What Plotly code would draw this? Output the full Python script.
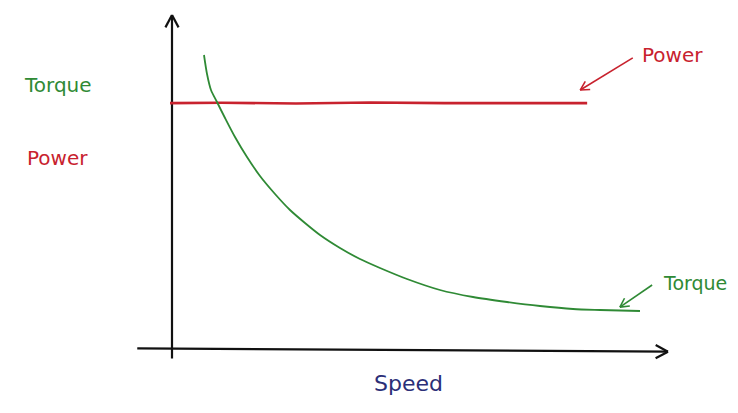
import plotly.graph_objects as go
import numpy as np

# ---- data (speed units on x, torque/power units on y) ----
torque_speed = [0.645, 0.706, 0.786, 0.907, 1.069, 1.270, 1.512, 1.774, 2.077, 2.379,
                2.681, 2.984, 3.387, 3.790, 4.194, 4.738, 5.403, 6.069, 6.754, 7.419,
                8.085, 8.629, 9.435]
torque_vals = [8.806, 8.239, 7.761, 7.403, 6.925, 6.358, 5.761, 5.194, 4.657, 4.179,
               3.791, 3.433, 3.045, 2.716, 2.448, 2.119, 1.791, 1.582, 1.433, 1.313,
               1.224, 1.194, 1.164]
power_speed = [-0.04, 1.0, 2.5, 4.0, 5.5, 7.0, 8.37]
power_vals = [7.37, 7.38, 7.36, 7.39, 7.37, 7.38, 7.37]

x_axis_label = "Speed"
y_labels = ["Torque", "Power"]
callouts = ["Power", "Torque"]

# ---- layout geometry (page body adds an 8px offset) ----
W, H = 730, 405
pxx, pxy = 49.6, 33.5          # pixels per data unit
ox, oy = 164, 342              # figure pixel of data origin
xr = [-ox / pxx, (W - ox) / pxx]
yr = [(oy - H) / pxy, oy / pxy]

GREEN = "#2f8a35"
RED = "#c8222e"
NAVY = "#2b2f78"

fig = go.Figure()

def vhead(x0, y0, x1, y1, size=12, ang=28):
    dx, dy = (x1 - x0) * pxx, (y1 - y0) * pxy
    th = np.arctan2(dy, dx)
    pts_x, pts_y = [], []
    for s in (1, -1):
        a = th + np.pi - s * np.radians(ang)
        pts_x += [x1 + size * np.cos(a) / pxx, x1, None]
        pts_y += [y1 + size * np.sin(a) / pxy, y1, None]
    return pts_x, pts_y

def arrow(x0, y0, x1, y1, color, width, size=12):
    hx, hy = vhead(x0, y0, x1, y1, size)
    fig.add_trace(go.Scatter(x=[x0, x1, None] + hx, y=[y0, y1, None] + hy, mode="lines",
                             line=dict(color=color, width=width), hoverinfo="skip",
                             showlegend=False))

# axes
arrow(0, -0.25, 0, 10.0, "#111111", 2.2, 14)
arrow(-0.7, 0.05, 10.0, -0.05, "#111111", 2.2, 14)

# curves
fig.add_trace(go.Scatter(x=power_speed, y=power_vals, mode="lines", name="Power",
                         line=dict(color=RED, width=2.6),
                         showlegend=False))
fig.add_trace(go.Scatter(x=torque_speed, y=torque_vals, mode="lines", name="Torque",
                         line=dict(color=GREEN, width=1.8, shape="spline", smoothing=0.8),
                         showlegend=False))

# pointer arrows
arrow(9.29, 8.72, 8.23, 7.76, RED, 1.6, 10)
arrow(9.68, 1.94, 9.03, 1.28, GREEN, 1.6, 10)

font = "DejaVu Sans"
anns = [
    dict(x=-2.30, y=7.91, text=y_labels[0], color=GREEN, size=20),
    dict(x=-2.30, y=5.73, text=y_labels[1], color=RED, size=20),
    dict(x=10.1, y=8.81, text=callouts[0], color=RED, size=20),
    dict(x=10.54, y=2.0, text=callouts[1], color=GREEN, size=19),
    dict(x=4.76, y=-1.01, text=x_axis_label, color=NAVY, size=22),
]
for a in anns:
    fig.add_annotation(x=a["x"], y=a["y"], xref="x", yref="y", text=a["text"],
                       showarrow=False, font=dict(family=font, size=a["size"], color=a["color"]))

fig.update_layout(
    width=W, height=H, margin=dict(l=0, r=0, t=0, b=0),
    paper_bgcolor="white", plot_bgcolor="white",
    xaxis=dict(range=xr, visible=False, fixedrange=True),
    yaxis=dict(range=yr, visible=False, fixedrange=True),
)

fig.write_html("out.html")
